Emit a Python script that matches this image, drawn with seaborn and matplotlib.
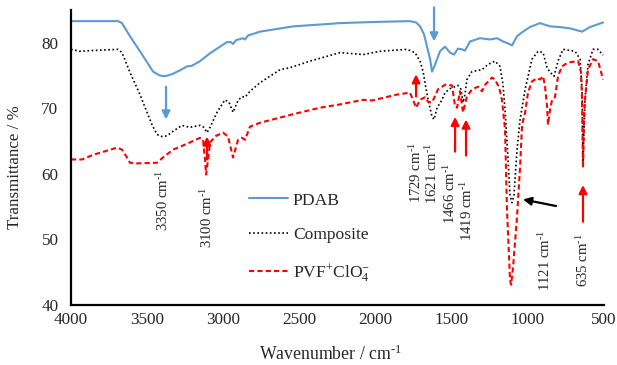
import matplotlib
matplotlib.use("Agg")
import matplotlib.pyplot as plt
import seaborn as sns
import pandas as pd

# ---------------- data ----------------
pdab_wn = [4000, 3810, 3691, 3665, 3613, 3547, 3461, 3416, 3383, 3337, 3284, 3238, 3205, 3153,
           3087, 3022, 2976, 2949, 2936, 2916, 2870, 2857, 2838, 2759, 2542, 2233, 1971, 1774,
           1734, 1708, 1682, 1662, 1642, 1629, 1616, 1596, 1577, 1544, 1511, 1485, 1459, 1432,
           1413, 1380, 1314, 1248, 1202, 1163, 1130, 1104, 1071, 1038, 986, 920, 854, 789, 723,
           644, 592, 506]
pdab_t = [83.3, 83.3, 83.3, 83.0, 81.0, 78.7, 75.6, 75.0, 74.9, 75.2, 75.8, 76.4, 76.5, 77.2,
          78.4, 79.4, 80.1, 80.1, 79.8, 80.4, 80.7, 80.5, 81.1, 81.7, 82.5, 83.0, 83.2, 83.3,
          83.1, 82.5, 81.3, 79.4, 77.5, 75.6, 76.3, 77.5, 78.7, 79.4, 78.5, 78.2, 79.1, 79.0,
          78.8, 80.2, 80.7, 80.5, 80.7, 80.2, 79.9, 79.6, 81.0, 81.6, 82.4, 83.0, 82.5, 82.4,
          82.2, 81.7, 82.4, 83.1]

comp_wn = [4000, 3941, 3875, 3691, 3665, 3613, 3547, 3501, 3468, 3435, 3402, 3370, 3330, 3271,
           3219, 3153, 3127, 3107, 3087, 3041, 2989, 2962, 2936, 2903, 2877, 2857, 2825, 2759,
           2627, 2562, 2431, 2233, 2082, 1971, 1793, 1741, 1708, 1688, 1668, 1655, 1629, 1616,
           1596, 1564, 1544, 1511, 1459, 1439, 1426, 1413, 1400, 1367, 1301, 1262, 1216, 1183,
           1163, 1150, 1130, 1117, 1104, 1091, 1071, 1051, 1018, 973, 933, 900, 874, 854, 828,
           802, 769, 690, 657, 644, 638, 625, 605, 572, 539, 506]
comp_t = [79.0, 78.7, 78.8, 79.0, 78.5, 75.5, 72.1, 69.4, 67.5, 66.0, 65.7, 65.8, 66.5, 67.4,
          67.1, 67.4, 67.1, 66.3, 67.1, 69.4, 71.3, 70.9, 69.4, 71.2, 71.8, 71.7, 72.6, 73.9,
          75.9, 76.2, 77.2, 78.5, 78.2, 78.7, 79.0, 78.5, 77.2, 75.6, 72.9, 71.3, 68.7, 68.3,
          70.1, 71.3, 72.4, 73.0, 73.5, 72.9, 70.9, 72.1, 74.4, 75.6, 75.9, 76.7, 77.2, 76.4,
          73.6, 69.8, 62.2, 56.8, 55.6, 56.8, 63.7, 68.3, 72.9, 77.5, 78.7, 78.5, 76.2, 75.5,
          74.9, 77.2, 79.0, 78.7, 77.5, 72.9, 61.5, 71.3, 76.7, 79.0, 79.0, 78.1]

pvf_wn = [4000, 3928, 3856, 3698, 3665, 3632, 3613, 3567, 3435, 3396, 3330, 3238, 3153, 3133,
          3120, 3113, 3100, 3087, 3048, 3002, 2969, 2936, 2903, 2877, 2857, 2825, 2759, 2542,
          2365, 2233, 2082, 2023, 1859, 1774, 1754, 1734, 1708, 1675, 1655, 1629, 1590, 1544,
          1498, 1478, 1465, 1446, 1426, 1400, 1367, 1327, 1301, 1281, 1235, 1216, 1189, 1170,
          1150, 1137, 1117, 1110, 1097, 1071, 1051, 1038, 1018, 999, 973, 940, 920, 900, 887,
          874, 868, 854, 841, 822, 802, 776, 736, 670, 651, 644, 638, 631, 625, 605, 572, 539,
          506]
pvf_t = [62.2, 62.2, 62.9, 64.0, 63.7, 62.5, 61.7, 61.6, 61.7, 62.5, 63.7, 64.6, 65.5, 65.2,
         62.2, 59.9, 62.2, 64.8, 65.8, 66.3, 65.7, 62.5, 65.2, 65.5, 65.2, 67.2, 67.8, 69.1,
         70.1, 70.6, 71.3, 71.2, 72.1, 72.4, 71.3, 70.1, 71.3, 71.7, 71.0, 70.9, 72.9, 73.6,
         73.5, 70.3, 70.1, 72.6, 69.4, 71.8, 72.9, 73.3, 72.6, 73.6, 74.7, 74.4, 73.2, 71.3,
         66.8, 54.5, 43.8, 43.1, 45.8, 53.5, 61.1, 67.5, 69.4, 72.4, 74.1, 74.6, 74.4, 74.9,
         73.3, 70.3, 67.5, 69.8, 71.3, 71.7, 74.9, 76.4, 77.0, 77.2, 75.5, 71.3, 60.9, 68.3,
         71.3, 75.9, 77.5, 77.2, 74.4]

series_names = ["PDAB", "Composite", r"PVF$^{+}$ClO$_{4}^{-}$"]
x_ticks = [4000, 3500, 3000, 2500, 2000, 1500, 1000, 500]
y_ticks = [40, 50, 60, 70, 80]

# peak annotations: (label, text x, text top y)
peak_labels = ["3350", "3100", "1729", "1621", "1466", "1419", "1121", "635"]
peak_text_x = [3396, 3107, 1734, 1629, 1511, 1400, 887, 638]
peak_text_y = [60.6, 58.0, 64.9, 64.8, 61.7, 59.1, 51.5, 51.0]

# ---------------- style ----------------
sns.set_style("white")
plt.rcParams["font.family"] = ["Liberation Serif", "DejaVu Serif"]
plt.rcParams["mathtext.fontset"] = "custom"
plt.rcParams["mathtext.rm"] = "Liberation Serif"
plt.rcParams["mathtext.it"] = "Liberation Serif:italic"
plt.rcParams["mathtext.bf"] = "Liberation Serif:bold"
FS_TICK = 12.3
FS_LEG = 12.6
FS_PEAK = 10.6
SUP = r"$^{\text{-1}}$"

fig = plt.figure(figsize=(6.17, 3.65), dpi=100)
ax = fig.add_axes([71 / 617, 1 - 305 / 365, 533 / 617, 295 / 365])

df_pdab = pd.DataFrame({"wn": pdab_wn, "t": pdab_t})
df_comp = pd.DataFrame({"wn": comp_wn, "t": comp_t})
df_pvf = pd.DataFrame({"wn": pvf_wn, "t": pvf_t})

sns.lineplot(data=df_pdab, x="wn", y="t", ax=ax, color="#5B9BD5", lw=1.5,
             label=series_names[0], estimator=None, sort=False)
sns.lineplot(data=df_comp, x="wn", y="t", ax=ax, color="black", lw=1.2,
             linestyle=(0, (1, 1.5)), label=series_names[1], estimator=None, sort=False)
sns.lineplot(data=df_pvf, x="wn", y="t", ax=ax, color="#FF0000", lw=1.5,
             linestyle=(0, (2.5, 1.5)), label=series_names[2], estimator=None, sort=False)

ax.set_xlim(4000, 500)
ax.set_ylim(40, 85)
ax.set_xticks(x_ticks)
ax.set_yticks(y_ticks)
ax.tick_params(axis="both", length=0, labelsize=FS_TICK)
ax.tick_params(axis="y", pad=9)
ax.tick_params(axis="x", pad=5)
ax.set_xlabel("")
ax.set_ylabel("")
for s in ["top", "right"]:
    ax.spines[s].set_visible(False)
for s in ["left", "bottom"]:
    ax.spines[s].set_color("black")
    ax.spines[s].set_linewidth(1.6)

fig.text(330 / 617, 1 - 354 / 365, "Wavenumber / cm" + SUP, ha="center", va="center",
         fontsize=12.8)
fig.text(15 / 617, 1 - 167 / 365, "Transmittance / %", ha="center", va="center",
         rotation=90, fontsize=12.2)

leg = ax.legend(loc="upper left", bbox_to_anchor=(0.334, 0.382), frameon=False,
                fontsize=FS_LEG, handlelength=2.2, handletextpad=0.3, labelspacing=1.05,
                borderpad=0, borderaxespad=0)

# peak labels
for lab, tx, ty in zip(peak_labels, peak_text_x, peak_text_y):
    ax.text(tx, ty, lab + " cm" + SUP, rotation=90, ha="center", va="top", fontsize=FS_PEAK)

# arrows
def arrow(x0, y0, x1, y1, color):
    ax.annotate("", xy=(x1, y1), xytext=(x0, y0), xycoords="data", annotation_clip=False,
                arrowprops=dict(arrowstyle="-|>", color=color, lw=1.6, mutation_scale=12,
                                shrinkA=0, shrinkB=0))

blue = "#5B9BD5"
red = "#FF0000"
arrow(3376, 73.3, 3376, 68.3, blue)
arrow(1616, 85.4, 1616, 80.2, blue)
arrow(3107, 62.2, 3107, 65.7, red)
arrow(1734, 71.8, 1734, 75.2, red)
arrow(1478, 63.4, 1478, 68.7, red)
arrow(1406, 62.8, 1406, 68.3, red)
arrow(638, 52.7, 638, 58.3, red)
arrow(815, 55.1, 1032, 56.1, "black")

fig.savefig("out.png", dpi=100)
